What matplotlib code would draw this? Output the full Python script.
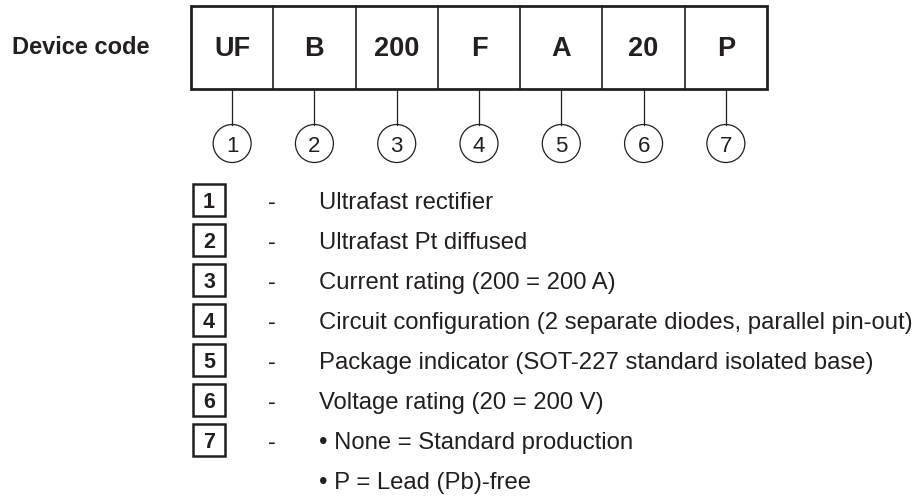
import matplotlib
matplotlib.use("Agg")
import matplotlib.pyplot as plt
from matplotlib.patches import Rectangle, Circle

# device code segments and their meaning
code_parts = ["UF", "B", "200", "F", "A", "20", "P"]
part_numbers = ["1", "2", "3", "4", "5", "6", "7"]
descriptions = [
    "Ultrafast rectifier",
    "Ultrafast Pt diffused",
    "Current rating (200 = 200 A)",
    "Circuit configuration (2 separate diodes, parallel pin-out)",
    "Package indicator (SOT-227 standard isolated base)",
    "Voltage rating (20 = 200 V)",
    "\u2022 None = Standard production",
]
extra_lines = ["\u2022 P = Lead (Pb)-free"]

plt.rcParams['font.family'] = ['Liberation Sans', 'DejaVu Sans']
ink = '#231f20'

fig = plt.figure(figsize=(9.19, 4.97), dpi=100)
ax = fig.add_axes([0, 0, 1, 1])
ax.set_xlim(0, 919)
ax.set_ylim(497, 0)
ax.set_aspect('equal')
ax.axis('off')

# code box
box_left, box_right, box_top, box_bot = 191, 767, 6, 89
cell_w = (box_right - box_left) / len(code_parts)
ax.text(12, 54.5, "Device code", fontsize=17, fontweight='bold', color=ink,
        ha='left', va='baseline')

for i, (part, num) in enumerate(zip(code_parts, part_numbers)):
    x0 = box_left + i * cell_w
    xc = x0 + cell_w / 2
    if i > 0:
        ax.plot([x0, x0], [box_top, box_bot], color=ink, lw=1.2)
    ax.text(xc, 56.5, part, fontsize=19.5, fontweight='bold', color=ink,
            ha='center', va='baseline')
    ax.plot([xc, xc], [box_bot, 124.5], color=ink, lw=0.9)
    ax.add_patch(Circle((xc, 143.5), 19, fill=False, ec=ink, lw=0.9))
    ax.text(xc, 152.5, num, fontsize=16, color=ink, ha='center', va='baseline')

ax.add_patch(Rectangle((box_left, box_top), box_right - box_left, box_bot - box_top,
                       fill=False, ec=ink, lw=2))

# legend rows
row0, row_step = 200, 40
for i, (num, desc) in enumerate(zip(part_numbers, descriptions)):
    yc = row0 + i * row_step
    ax.add_patch(Rectangle((193, yc - 16), 32, 32, fill=False, ec=ink, lw=1.8))
    ax.text(209, yc + 7.8, num, fontsize=15.5, fontweight='bold', color=ink,
            ha='center', va='baseline')
    ax.text(272, yc + 8.5, "-", fontsize=17, color=ink, ha='center', va='baseline')
    ax.text(319, yc + 8.6, desc, fontsize=17.2, color=ink, ha='left', va='baseline')

for j, line in enumerate(extra_lines):
    yc = row0 + (len(descriptions) + j) * row_step
    ax.text(319, yc + 8.6, line, fontsize=17.2, color=ink, ha='left', va='baseline')

fig.savefig("out.png", dpi=100, facecolor='white')
